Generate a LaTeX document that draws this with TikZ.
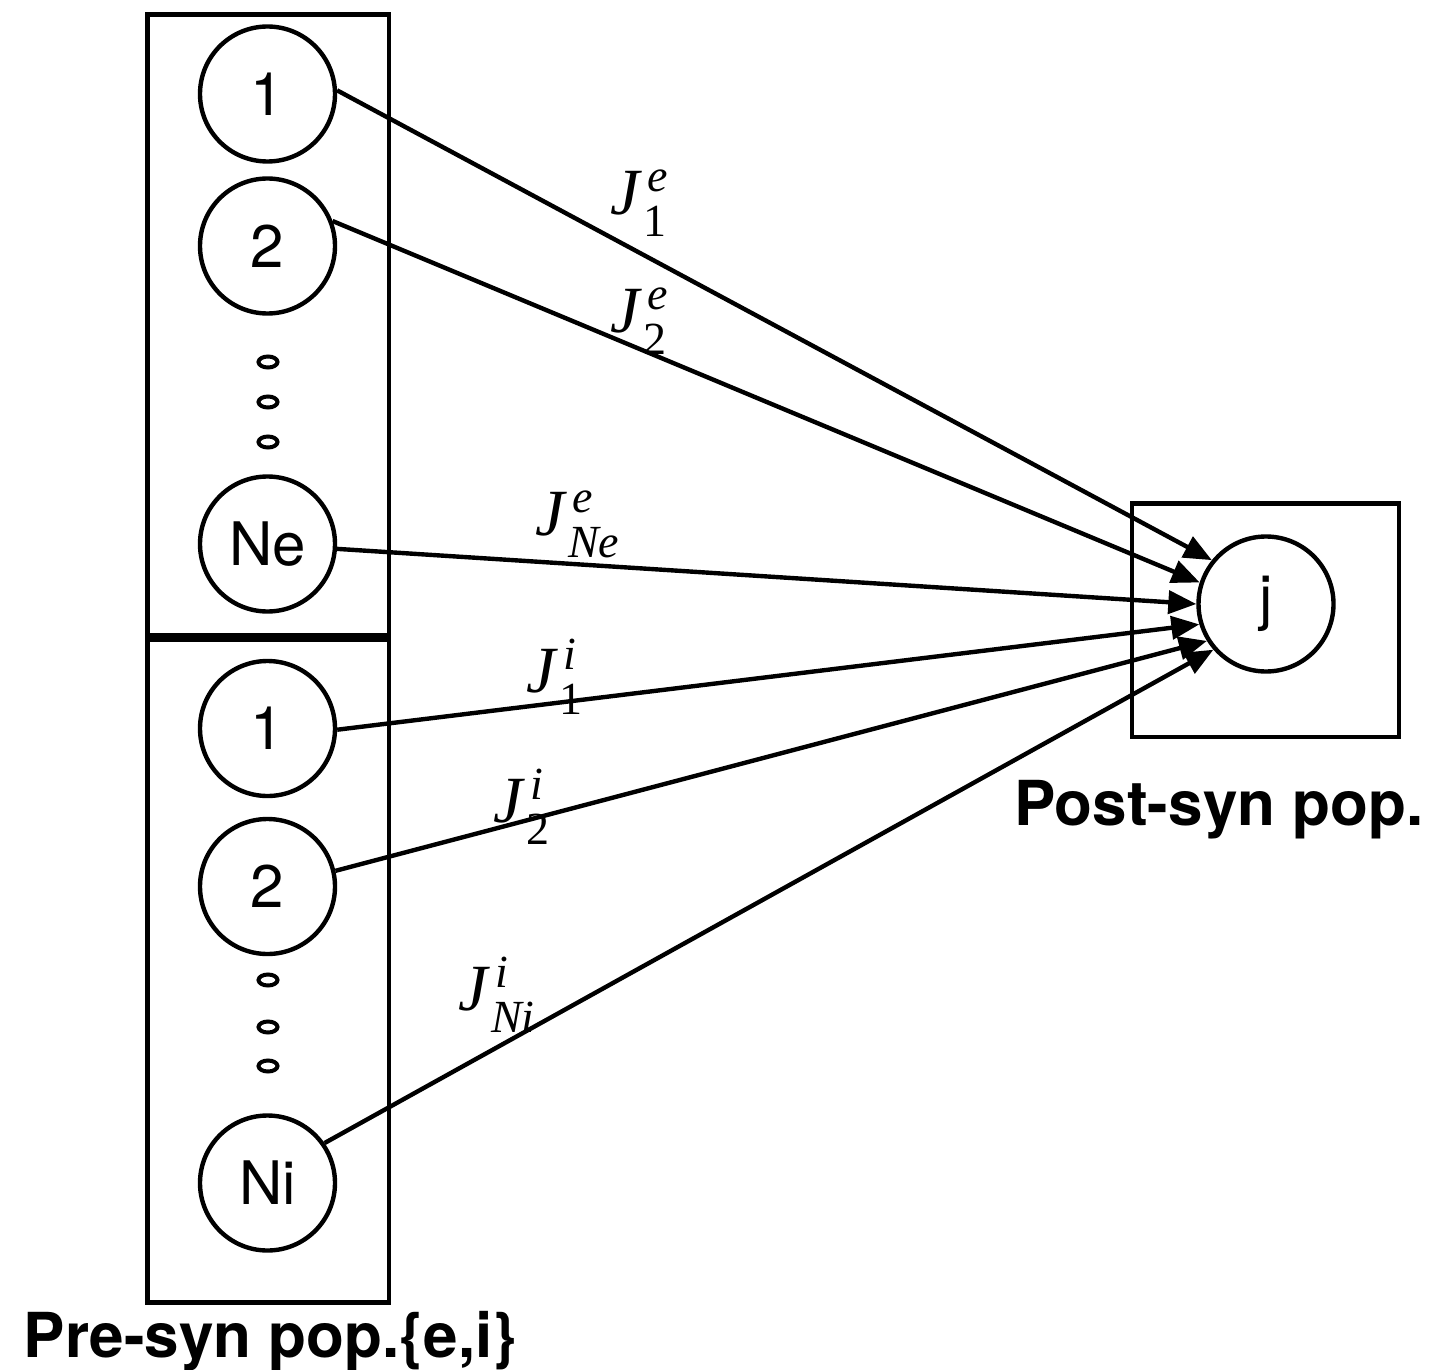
\documentclass[tikz,border=0pt]{standalone}
\usepackage{fontspec}
\setmainfont{Liberation Serif}[ItalicFont={Liberation Serif Italic}]
\newfontfamily\hv{TeX Gyre Heros}
\usetikzlibrary{arrows.meta}
\newcommand\Jlab[2]{\textit{J}\rlap{\kern2.5pt\raisebox{11.5pt}{\fontsize{23}{23}\selectfont\smash{\textit{#1}}}}\kern0.5pt\raisebox{-11pt}{\fontsize{23}{23}\selectfont\smash{#2}}}
\begin{document}
\begin{tikzpicture}[x=0.5pt,y=-0.5pt,
  neuron/.style={circle, draw, line width=2.2pt, minimum size=67.5pt, inner sep=0pt, font=\hv\fontsize{30}{32}\selectfont},
  box/.style={draw, line width=2.3pt},
  syn/.style={line width=2.2pt, -{Triangle[length=14pt,width=11.5pt]}},
  jlab/.style={anchor=base west, inner sep=0pt, font=\fontsize{33}{36}\selectfont},
  title/.style={anchor=base, inner sep=0pt, font=\hv\bfseries\fontsize{31}{34}\selectfont},
  dotmark/.style={draw, line width=2pt}]
\useasboundingbox (0,0) rectangle (1433,1369);
% boxes
\draw[box] (147.5,14.5) rectangle (389,635.5);
\draw[box] (147.5,640) rectangle (389,1302.5);
\draw[box] (1132,503.5) rectangle (1399,737);
% neurons
\node[neuron] (e1) at (267.5,94) {1};
\node[neuron] (e2) at (267.5,246) {2};
\node[neuron] (eN) at (267.5,544) {Ne};
\node[neuron] (i1) at (267.5,728.5) {1};
\node[neuron] (i2) at (267.5,886.5) {2};
\node[neuron] (iN) at (267.5,1183) {Ni};
\node[neuron] (j) at (1266,604) {j};
% ellipsis dots
\foreach \yy in {362,402,442,980,1027,1066}
  \draw[dotmark] (268,\yy) ellipse [x radius=4.75pt, y radius=2.75pt];
% synapses
\draw[syn] (e1.3) -- (j.141);
\draw[syn] (e2.21) -- (j.162);
\draw[syn] (eN.-4) -- (j.180);
\draw[syn] (i1.-1) -- (j.197);
\draw[syn] (i2.13) -- (j.212);
\draw[syn] (iN.35) -- (j.221);
% weight labels
\node[jlab] (l1) at (610,215) {\Jlab{e}{1}};
\node[jlab] (l2) at (610,333) {\Jlab{e}{2}};
\node[jlab] (l3) at (535,535) {\Jlab{e}{\textit{Ne}}};
\node[jlab] (l4) at (526,692) {\Jlab{i}{1}};
\node[jlab] (l5) at (493,822) {\Jlab{i}{2}};
\node[jlab] (l6) at (458,1010) {\Jlab{i}{\textit{Ni}}};
% titles
\node[title] (post) at (1219,825) {Post-syn pop.};
\node[title] (pre) at (270.5,1357) {Pre-syn pop.\{e,i\}};
\end{tikzpicture}
\end{document}
